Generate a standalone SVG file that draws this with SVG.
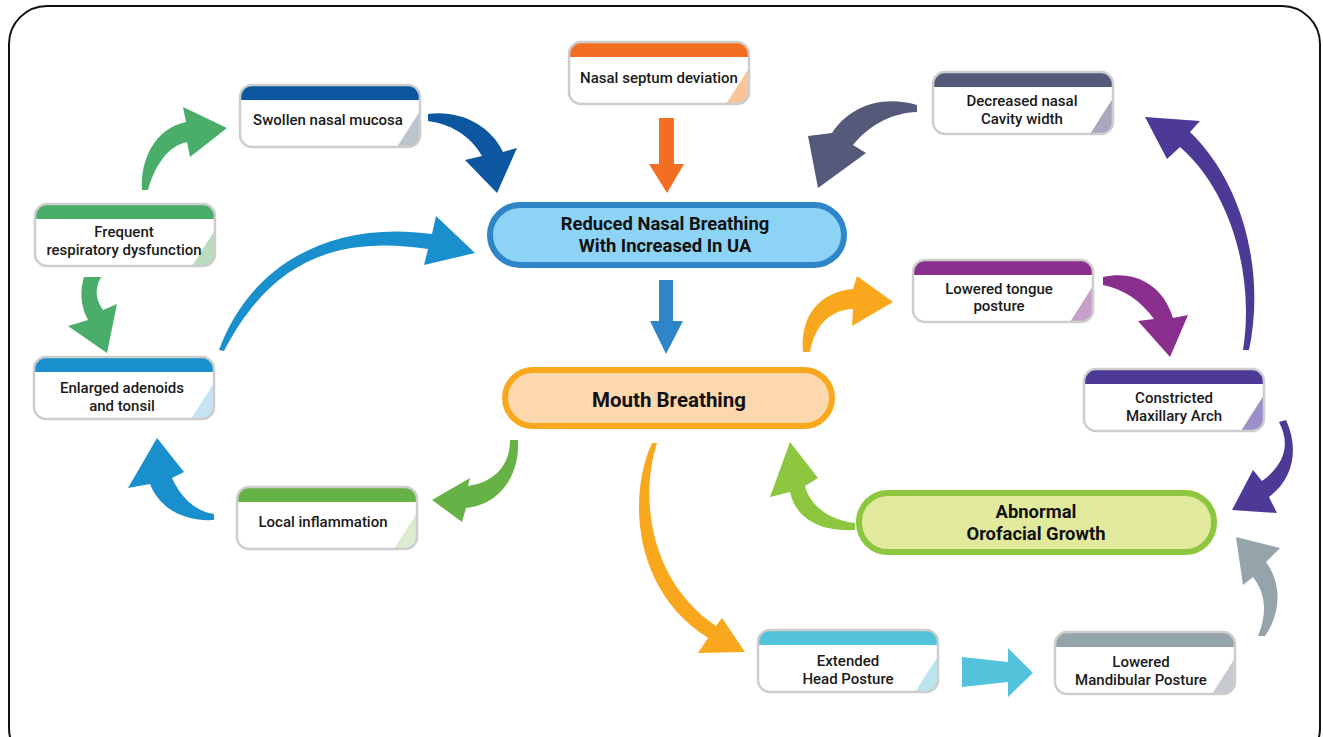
<svg xmlns="http://www.w3.org/2000/svg" width="1323" height="737" viewBox="0 0 1323 737">
<style>
.box{fill:#fff}
.bord{fill:none;stroke:#cdcdcd;stroke-width:2.5}
.t{font-family:Roboto,"Liberation Sans",sans-serif;font-size:15px;font-weight:500;fill:#1a1a1a;text-anchor:middle}
.pt{font-family:Roboto,"Liberation Sans",sans-serif;font-size:18.4px;font-weight:700;fill:#111;text-anchor:middle}
</style>
<defs>
<path id="band" d="M0,15 V12 A12,12 0 0 1 12,0 H168 A12,12 0 0 1 180,12 V15 Z"/>
<path id="tri" d="M180,26 V50 A12,12 0 0 1 168,62 H157 Z"/>
</defs>
<rect x="9" y="6" width="1311" height="760" rx="38" fill="#fff" stroke="#111" stroke-width="2"/>

<g id="connectors">
<path fill="#4aae6a" d="M142,190 C140,160 155,128 186,122 L183,107 L227,128 L190,157 L187,142 C168,146 155,165 148,190 Z"/>
<path fill="#0d56a0" d="M428,114 C460,110 490,125 503,152 L517,148 L497,193 L465,160 L482,156 C470,135 450,124 428,121 Z"/>
<path fill="#f26f22" d="M659,118 H674 V164 H684 L667,193 L649,164 H659 Z"/>
<path fill="#565a7a" d="M917,105 C880,94 848,108 832,133 L808,136 L818,188 L866,153 L853,145 C870,124 893,113 917,112 Z"/>
<path fill="#1a8fce" d="M219,350 C250,265 330,220 432,234 L436,216 L475,253 L424,265 L428,249 C335,235 270,262 224,351 Z"/>
<path fill="#2e86c8" d="M659,280 H673 V321 H683 L666,354 L650,321 H659 Z"/>
<path fill="#4aae6a" d="M84,277 L101,277 C94,290 96,300 103,310 L117,304 L107,353 L68,326 L88,320 C80,305 80,290 84,277 Z"/>
<path fill="#f9a81e" d="M803,352 C800,315 820,292 853,289 L857,276 L893,302 L852,326 L853,309 C830,310 815,325 810,352 Z"/>
<path fill="#8b2f8e" d="M1103,277 C1135,270 1163,285 1173,318 L1188,315 L1170,357 L1138,321 L1154,319 C1140,300 1125,290 1103,285 Z"/>
<path fill="#4c3a96" d="M1243,350 C1255,275 1230,190 1180,147 L1167,159 L1145,117 L1200,121 L1190,132 C1245,185 1265,275 1249,350 Z"/>
<path fill="#4c3a96" d="M1279,422 C1291,445 1284,465 1262,481 L1253,470 L1232,510 L1277,513 L1269,497 C1294,478 1299,448 1286,420 Z"/>
<path fill="#67b246" d="M510,440 C510,465 495,482 468,486 L470,478 L432,500 L462,522 L466,508 C500,505 520,475 518,440 Z"/>
<path fill="#1a8fce" d="M214,520 C180,522 158,505 150,484 L128,488 L157,438 L184,472 L172,478 C182,500 198,512 214,514 Z"/>
<path fill="#f9a81e" d="M652,443 C628,495 632,590 708,638 L698,653 L745,652 L722,618 L716,626 C648,580 640,495 657,443 Z"/>
<path fill="#8dc63f" d="M855,530 C815,532 795,515 790,492 L770,497 L790,442 L818,478 L805,486 C810,505 828,520 855,523 Z"/>
<path fill="#53c3db" d="M962,657 L1008,662 V648 L1033,673 L1008,697 V682 L962,687 Z"/>
<path fill="#95a3ab" d="M1258,636 C1268,612 1265,592 1253,577 L1243,585 L1236,537 L1280,548 L1266,562 C1283,585 1280,615 1265,636 Z"/>
</g>

<g id="reduced">
<rect x="490" y="205" width="354" height="60" rx="30" fill="#8dd3f5" stroke="#2e86c8" stroke-width="6"/>
<text class="pt" x="665" y="230">Reduced Nasal Breathing</text>
<text class="pt" x="665" y="252">With Increased In UA</text>
</g>
<g id="mouth">
<rect x="505" y="370" width="327" height="56" rx="28" fill="#fdd8ae" stroke="#f9a81e" stroke-width="6"/>
<text class="pt" x="669" y="407" style="font-size:20.5px">Mouth Breathing</text>
</g>
<g id="abnormal">
<rect x="859" y="493" width="355" height="59" rx="29" fill="#e1ea9c" stroke="#8dc63f" stroke-width="6"/>
<text class="pt" x="1036" y="518">Abnormal</text>
<text class="pt" x="1036" y="540">Orofacial Growth</text>
</g>

<g id="swollen" transform="translate(240,85)">
<rect class="box" width="180" height="62" rx="12"/><use href="#band" fill="#0d56a0"/><use href="#tri" fill="#bcc5cc"/><rect class="bord" width="180" height="62" rx="12"/>
<text class="t" x="88" y="40">Swollen nasal mucosa</text>
</g>
<g id="septum" transform="translate(569,42)">
<rect class="box" width="180" height="62" rx="12"/><use href="#band" fill="#f26f22"/><use href="#tri" fill="#f9c49a"/><rect class="bord" width="180" height="62" rx="12"/>
<text class="t" x="90" y="41">Nasal septum deviation</text>
</g>
<g id="decreased" transform="translate(933,72)">
<rect class="box" width="180" height="62" rx="12"/><use href="#band" fill="#565a7a"/><use href="#tri" fill="#a9a9bd"/><rect class="bord" width="180" height="62" rx="12"/>
<text class="t" x="89" y="34">Decreased nasal</text>
<text class="t" x="89" y="52">Cavity width</text>
</g>
<g id="frequent" transform="translate(35,204)">
<rect class="box" width="180" height="62" rx="12"/><use href="#band" fill="#4aae6a"/><use href="#tri" fill="#b9dcbd"/><rect class="bord" width="180" height="62" rx="12"/>
<text class="t" x="89" y="33">Frequent</text>
<text class="t" x="89" y="51">respiratory dysfunction</text>
</g>
<g id="enlarged" transform="translate(34,357)">
<rect class="box" width="180" height="62" rx="12"/><use href="#band" fill="#1a8fce"/><use href="#tri" fill="#c6e3f4"/><rect class="bord" width="180" height="62" rx="12"/>
<text class="t" x="88" y="36">Enlarged adenoids</text>
<text class="t" x="88" y="54">and tonsil</text>
</g>
<g id="local" transform="translate(237,487)">
<rect class="box" width="180" height="62" rx="12"/><use href="#band" fill="#67b246"/><use href="#tri" fill="#dcebd0"/><rect class="bord" width="180" height="62" rx="12"/>
<text class="t" x="86" y="40">Local inflammation</text>
</g>
<g id="tongue" transform="translate(913,260)">
<rect class="box" width="180" height="62" rx="12"/><use href="#band" fill="#8b2f8e"/><use href="#tri" fill="#c6a0c8"/><rect class="bord" width="180" height="62" rx="12"/>
<text class="t" x="86" y="34">Lowered tongue</text>
<text class="t" x="86" y="51">posture</text>
</g>
<g id="constricted" transform="translate(1084,369)">
<rect class="box" width="180" height="62" rx="12"/><use href="#band" fill="#4c3a96"/><use href="#tri" fill="#9c8fca"/><rect class="bord" width="180" height="62" rx="12"/>
<text class="t" x="90" y="34">Constricted</text>
<text class="t" x="90" y="52">Maxillary Arch</text>
</g>
<g id="extended" transform="translate(758,630)">
<rect class="box" width="180" height="62" rx="12"/><use href="#band" fill="#53c3db"/><use href="#tri" fill="#bce4ef"/><rect class="bord" width="180" height="62" rx="12"/>
<text class="t" x="90" y="36">Extended</text>
<text class="t" x="90" y="54">Head Posture</text>
</g>
<g id="mandibular" transform="translate(1055,632)">
<rect class="box" width="180" height="62" rx="12"/><use href="#band" fill="#95a3ab"/><use href="#tri" fill="#c7cbd1"/><rect class="bord" width="180" height="62" rx="12"/>
<text class="t" x="86" y="35">Lowered</text>
<text class="t" x="86" y="53">Mandibular Posture</text>
</g>
</svg>
